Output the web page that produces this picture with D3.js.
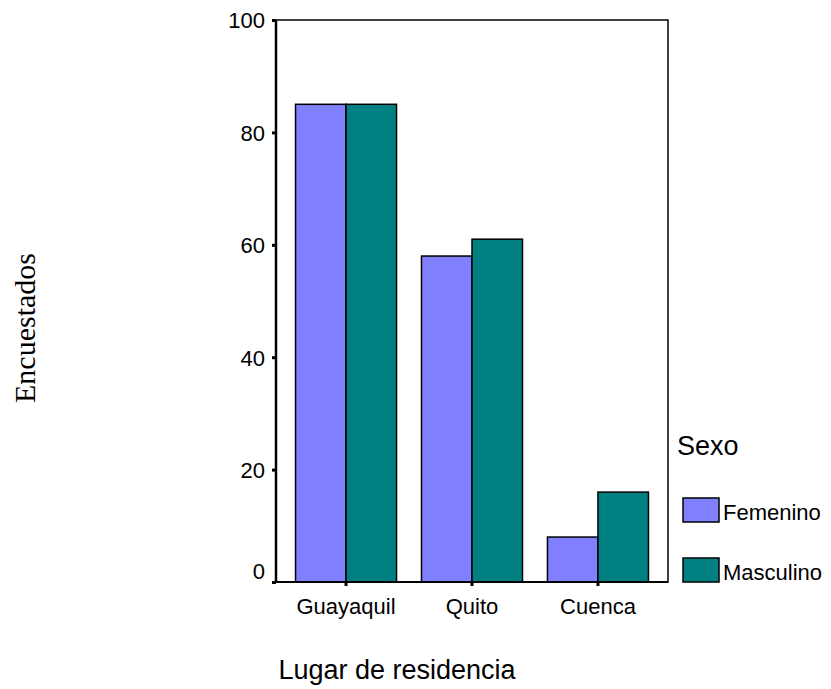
<!DOCTYPE html>
<html><head><meta charset="utf-8">
<script src="https://cdn.jsdelivr.net/npm/d3@7"></script>
<style>body{margin:0;background:#fff}svg{display:block}</style>
</head><body>
<script>
const categories = ["Guayaquil", "Quito", "Cuenca"];
const seriesNames = ["Femenino", "Masculino"];
const femenino = [85, 58, 8];
const masculino = [85, 61, 16];
const yTicks = [0, 20, 40, 60, 80, 100];
const colors = ["#8080ff", "#008080"];

const W = 831, H = 689;
const L = 276, R = 668, T = 20, B = 582;
const svg = d3.select("body").append("svg").attr("width", W).attr("height", H);

const y = d3.scaleLinear().domain([0, 100]).range([B, T]);
const x = d3.scaleBand().domain(categories).range([L, R]).paddingInner(0.198).paddingOuter(0.155);
const xs = d3.scaleBand().domain(seriesNames).range([0, x.bandwidth()]);

const data = categories.map((c, i) => ({c, vals: [femenino[i], masculino[i]]}));

// bars
const g = svg.append("g");
data.forEach(d => {
  d.vals.forEach((v, j) => {
    g.append("rect")
      .attr("x", x(d.c) + xs(seriesNames[j]))
      .attr("y", y(v))
      .attr("width", xs.bandwidth())
      .attr("height", y(0) - y(v))
      .attr("fill", colors[j])
      .attr("stroke", "#000").attr("stroke-width", 1.5);
  });
});

// frame
svg.append("rect").attr("x", L).attr("y", T).attr("width", R - L).attr("height", B - T)
  .attr("fill", "none").attr("stroke", "#000").attr("stroke-width", 1.5);
svg.append("line").attr("x1", L).attr("x2", L).attr("y1", T).attr("y2", B)
  .attr("stroke", "#000").attr("stroke-width", 2.5);
svg.append("line").attr("x1", L).attr("x2", R).attr("y1", B).attr("y2", B)
  .attr("stroke", "#000").attr("stroke-width", 2);

// y axis
const yAxis = d3.axisLeft(y).tickValues(yTicks).tickSize(4).tickPadding(7).tickFormat(d3.format("d"));
const ya = svg.append("g").attr("transform", `translate(${L},0)`).call(yAxis);
ya.select(".domain").remove();
ya.selectAll(".tick line").attr("stroke", "#000").attr("stroke-width", 3);
ya.selectAll(".tick text").attr("font-family", "Arial, 'Liberation Sans', sans-serif")
  .attr("font-size", 22).attr("fill", "#000")
  .attr("dy", d => d === 0 ? "-0.15em" : "0.36em");

// x axis
const xAxis = d3.axisBottom(x).tickSize(4).tickPadding(12);
const xa = svg.append("g").attr("transform", `translate(0,${B})`).call(xAxis);
xa.select(".domain").remove();
xa.selectAll(".tick line").attr("stroke", "#000").attr("stroke-width", 3);
xa.selectAll(".tick text").attr("font-family", "Arial, 'Liberation Sans', sans-serif")
  .attr("font-size", 22).attr("fill", "#000");

// axis titles
svg.append("text").attr("x", (L + 516) / 2 + 1).attr("y", 679).attr("text-anchor", "middle")
  .attr("font-family", "Arial, 'Liberation Sans', sans-serif").attr("font-size", 27)
  .text("Lugar de residencia");
svg.append("text").attr("transform", "translate(35,328) rotate(-90)").attr("text-anchor", "middle")
  .attr("font-family", "'Liberation Serif', 'Times New Roman', serif").attr("font-size", 30)
  .text("Encuestados");

// legend
svg.append("text").attr("x", 677).attr("y", 455)
  .attr("font-family", "Arial, 'Liberation Sans', sans-serif").attr("font-size", 27).text("Sexo");
seriesNames.forEach((s, j) => {
  const yy = 498 + j * 60;
  svg.append("rect").attr("x", 683).attr("y", yy).attr("width", 36).attr("height", 24)
    .attr("fill", colors[j]).attr("stroke", "#000").attr("stroke-width", 1.5);
  svg.append("text").attr("x", 723).attr("y", yy + 22)
    .attr("font-family", "Arial, 'Liberation Sans', sans-serif").attr("font-size", 22).text(s);
});
</script>
</body></html>
